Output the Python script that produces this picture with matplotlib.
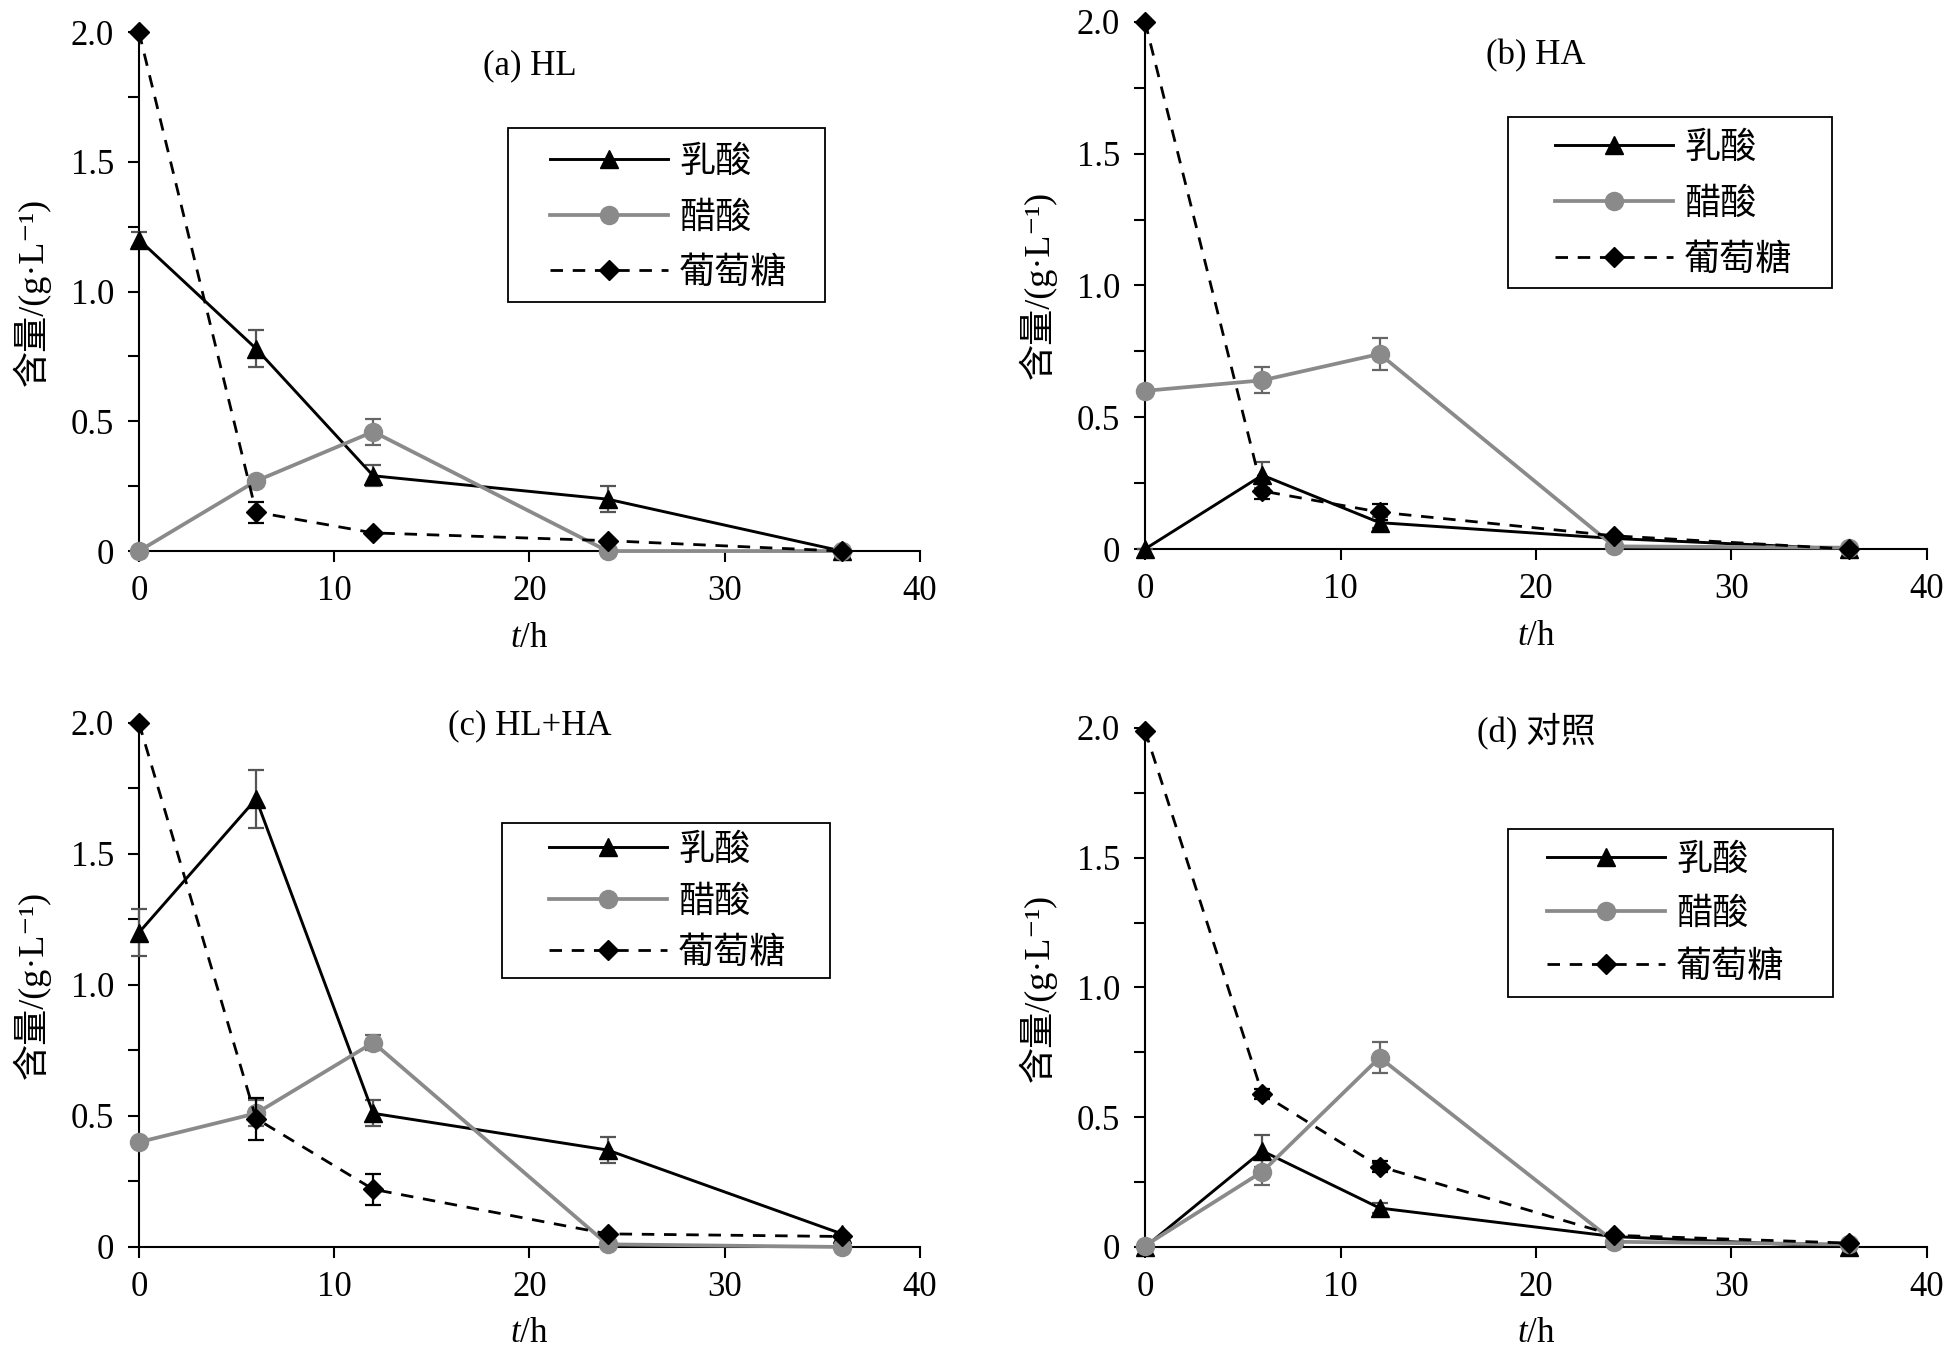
#!/usr/bin/env python3
# -*- coding: utf-8 -*-

"""
Lactic acid, acetic acid and glucose content vs time for four groups.
"""

import numpy as np
import matplotlib
matplotlib.use("Agg")
from matplotlib import pyplot as plt
from matplotlib.patches import Rectangle
from matplotlib.ticker import MultipleLocator, FuncFormatter

# DATA ########################################################################

t_h = [0, 6, 12, 24, 36]

panel_titles = ["(a) HL", "(b) HA", "(c) HL+HA", "(d) 对照"]
series_names = ["乳酸", "醋酸", "葡萄糖"]

# (a) HL
lactic_a = [1.20, 0.78, 0.29, 0.20, 0.0]
lactic_a_err = [0.03, 0.07, 0.04, 0.05, 0.0]
acetic_a = [0.0, 0.27, 0.46, 0.0, 0.0]
acetic_a_err = [0.0, 0.0, 0.05, 0.0, 0.0]
glucose_a = [2.0, 0.15, 0.07, 0.04, 0.0]
glucose_a_err = [0.0, 0.04, 0.0, 0.0, 0.0]

# (b) HA
lactic_b = [0.0, 0.28, 0.10, 0.04, 0.0]
lactic_b_err = [0.0, 0.05, 0.02, 0.0, 0.0]
acetic_b = [0.60, 0.64, 0.74, 0.01, 0.005]
acetic_b_err = [0.0, 0.05, 0.06, 0.0, 0.0]
glucose_b = [2.0, 0.22, 0.14, 0.05, 0.0]
glucose_b_err = [0.0, 0.03, 0.03, 0.0, 0.0]

# (c) HL+HA
lactic_c = [1.20, 1.71, 0.51, 0.37, 0.05]
lactic_c_err = [0.09, 0.11, 0.05, 0.05, 0.0]
acetic_c = [0.40, 0.51, 0.78, 0.01, 0.0]
acetic_c_err = [0.0, 0.05, 0.03, 0.0, 0.0]
glucose_c = [2.0, 0.49, 0.22, 0.05, 0.04]
glucose_c_err = [0.0, 0.08, 0.06, 0.0, 0.0]

# (d) control
lactic_d = [0.0, 0.37, 0.15, 0.04, 0.0]
lactic_d_err = [0.0, 0.06, 0.02, 0.0, 0.0]
acetic_d = [0.005, 0.29, 0.73, 0.02, 0.01]
acetic_d_err = [0.0, 0.05, 0.06, 0.0, 0.0]
glucose_d = [1.99, 0.59, 0.31, 0.045, 0.015]
glucose_d_err = [0.0, 0.02, 0.02, 0.0, 0.0]

lactic_all = [lactic_a, lactic_b, lactic_c, lactic_d]
lactic_err_all = [lactic_a_err, lactic_b_err, lactic_c_err, lactic_d_err]
acetic_all = [acetic_a, acetic_b, acetic_c, acetic_d]
acetic_err_all = [acetic_a_err, acetic_b_err, acetic_c_err, acetic_d_err]
glucose_all = [glucose_a, glucose_b, glucose_c, glucose_d]
glucose_err_all = [glucose_a_err, glucose_b_err, glucose_c_err, glucose_d_err]

# STYLE #######################################################################

SERIF = ["Liberation Serif", "Noto Sans CJK SC", "DejaVu Sans"]
CJK = ["Noto Sans CJK SC", "Liberation Serif", "DejaVu Sans"]

plt.rcParams["font.family"] = SERIF
plt.rcParams["mathtext.fontset"] = "custom"
plt.rcParams["mathtext.rm"] = "Liberation Serif"
plt.rcParams["mathtext.it"] = "Liberation Serif:italic"

GRAY = "#8a8a8a"
W, H = 1949, 1364
LEG_FS = 26
LEG_FS_PX = LEG_FS * 100 / 72.

# axes rectangles [left, bottom, width, height] in figure fraction
axes_rects = [
    [0.0713, 0.5960, 0.4007, 0.3805],
    [0.5875, 0.5975, 0.4012, 0.3865],
    [0.0713, 0.0858, 0.4007, 0.3842],
    [0.5875, 0.0858, 0.4012, 0.3805],
]
title_y = [0.935, 0.935, 0.995, 0.995]

# legend frames (left, top, right, bottom), handle start and first/last row
# centre, all in figure pixels from the top left corner
leg_boxes = [(508, 128, 825, 302), (1508, 117, 1832, 288),
             (502, 823, 830, 978), (1508, 829, 1833, 997)]
leg_handle_x = [550, 1555, 549, 1547]
leg_rows = [(162, 273), (148, 260), (850, 953), (860, 967)]

# PLOT ########################################################################

fig = plt.figure(figsize=(W / 100., H / 100.), dpi=100)
axes = []
handles = []

for i in range(4):
    ax = fig.add_axes(axes_rects[i])
    axes.append(ax)

    h1 = ax.errorbar(t_h, lactic_all[i], yerr=lactic_err_all[i],
                     color="black", lw=2.1, marker="^", ms=13,
                     ecolor="#555555", elinewidth=1.6, capsize=5.5, capthick=1.6,
                     clip_on=False, zorder=3)
    h2 = ax.errorbar(t_h, acetic_all[i], yerr=acetic_err_all[i],
                     color=GRAY, lw=2.7, marker="o", ms=13,
                     ecolor="#666666", elinewidth=1.6, capsize=5.5, capthick=1.6,
                     clip_on=False, zorder=3)
    h3 = ax.errorbar(t_h, glucose_all[i], yerr=glucose_err_all[i],
                     color="black", lw=2, ls=(0, (4.5, 3.5)), marker="D", ms=10,
                     ecolor="black", elinewidth=1.6, capsize=5.5, capthick=1.6,
                     clip_on=False, zorder=4)
    handles.append([h1[0], h2[0], h3[0]])

    ax.set_xlim(0, 40)
    ax.set_ylim(0, 2.0)
    ax.xaxis.set_major_locator(MultipleLocator(10))
    ax.yaxis.set_major_locator(MultipleLocator(0.5))
    ax.yaxis.set_minor_locator(MultipleLocator(0.25))
    ax.yaxis.set_major_formatter(
        FuncFormatter(lambda v, p: "0" if abs(v) < 1e-9 else "%.1f" % v))

    for side in ["top", "right"]:
        ax.spines[side].set_visible(False)
    for side in ["left", "bottom"]:
        ax.spines[side].set_linewidth(1.5)

    ax.tick_params(axis="both", which="both", direction="out",
                   length=8, width=1.5, labelsize=25)
    ax.tick_params(axis="x", pad=9)
    ax.tick_params(axis="y", pad=10)

    ax.set_xlabel("$t$/h", fontsize=25, labelpad=10)
    ax.set_ylabel("含量/(g·L⁻¹)", fontsize=26, family=SERIF, labelpad=14)

    ax.text(0.5, title_y[i], panel_titles[i], transform=ax.transAxes,
            ha="center", va="center", fontsize=25, family=SERIF)

    # legend frame
    l, t, r, b = leg_boxes[i]
    ax.add_patch(Rectangle((l / W, 1 - b / H), (r - l) / W, (b - t) / H,
                           transform=fig.transFigure, facecolor="white",
                           edgecolor="black", lw=1.3, zorder=4.5,
                           clip_on=False))


def add_legend(i, spacing, top_px):
    return axes[i].legend(handles[i], series_names, loc="upper left",
                          bbox_to_anchor=(leg_handle_x[i] / W, 1 - top_px / H),
                          bbox_transform=fig.transFigure, frameon=False,
                          borderpad=0, borderaxespad=0, handlelength=3.27,
                          handletextpad=0.3, labelspacing=spacing,
                          prop={"family": CJK, "size": LEG_FS})


# measure one legend to place the rows where the frames expect them
probe = add_legend(0, 0.5, 200)
fig.canvas.draw()
ext = [txt.get_window_extent() for txt in probe.get_texts()]
c_first = (ext[0].y0 + ext[0].y1) / 2.
c_last = (ext[2].y0 + ext[2].y1) / 2.
row_h = (c_first - c_last) / 2. - 0.5 * LEG_FS_PX
top_off = probe.get_window_extent().y1 - c_first
probe.remove()

for i in range(4):
    r1, r3 = leg_rows[i]
    spacing = ((r3 - r1) / 2. - row_h) / LEG_FS_PX
    add_legend(i, spacing, r1 - top_off)

fig.savefig("out.png", dpi=100)
